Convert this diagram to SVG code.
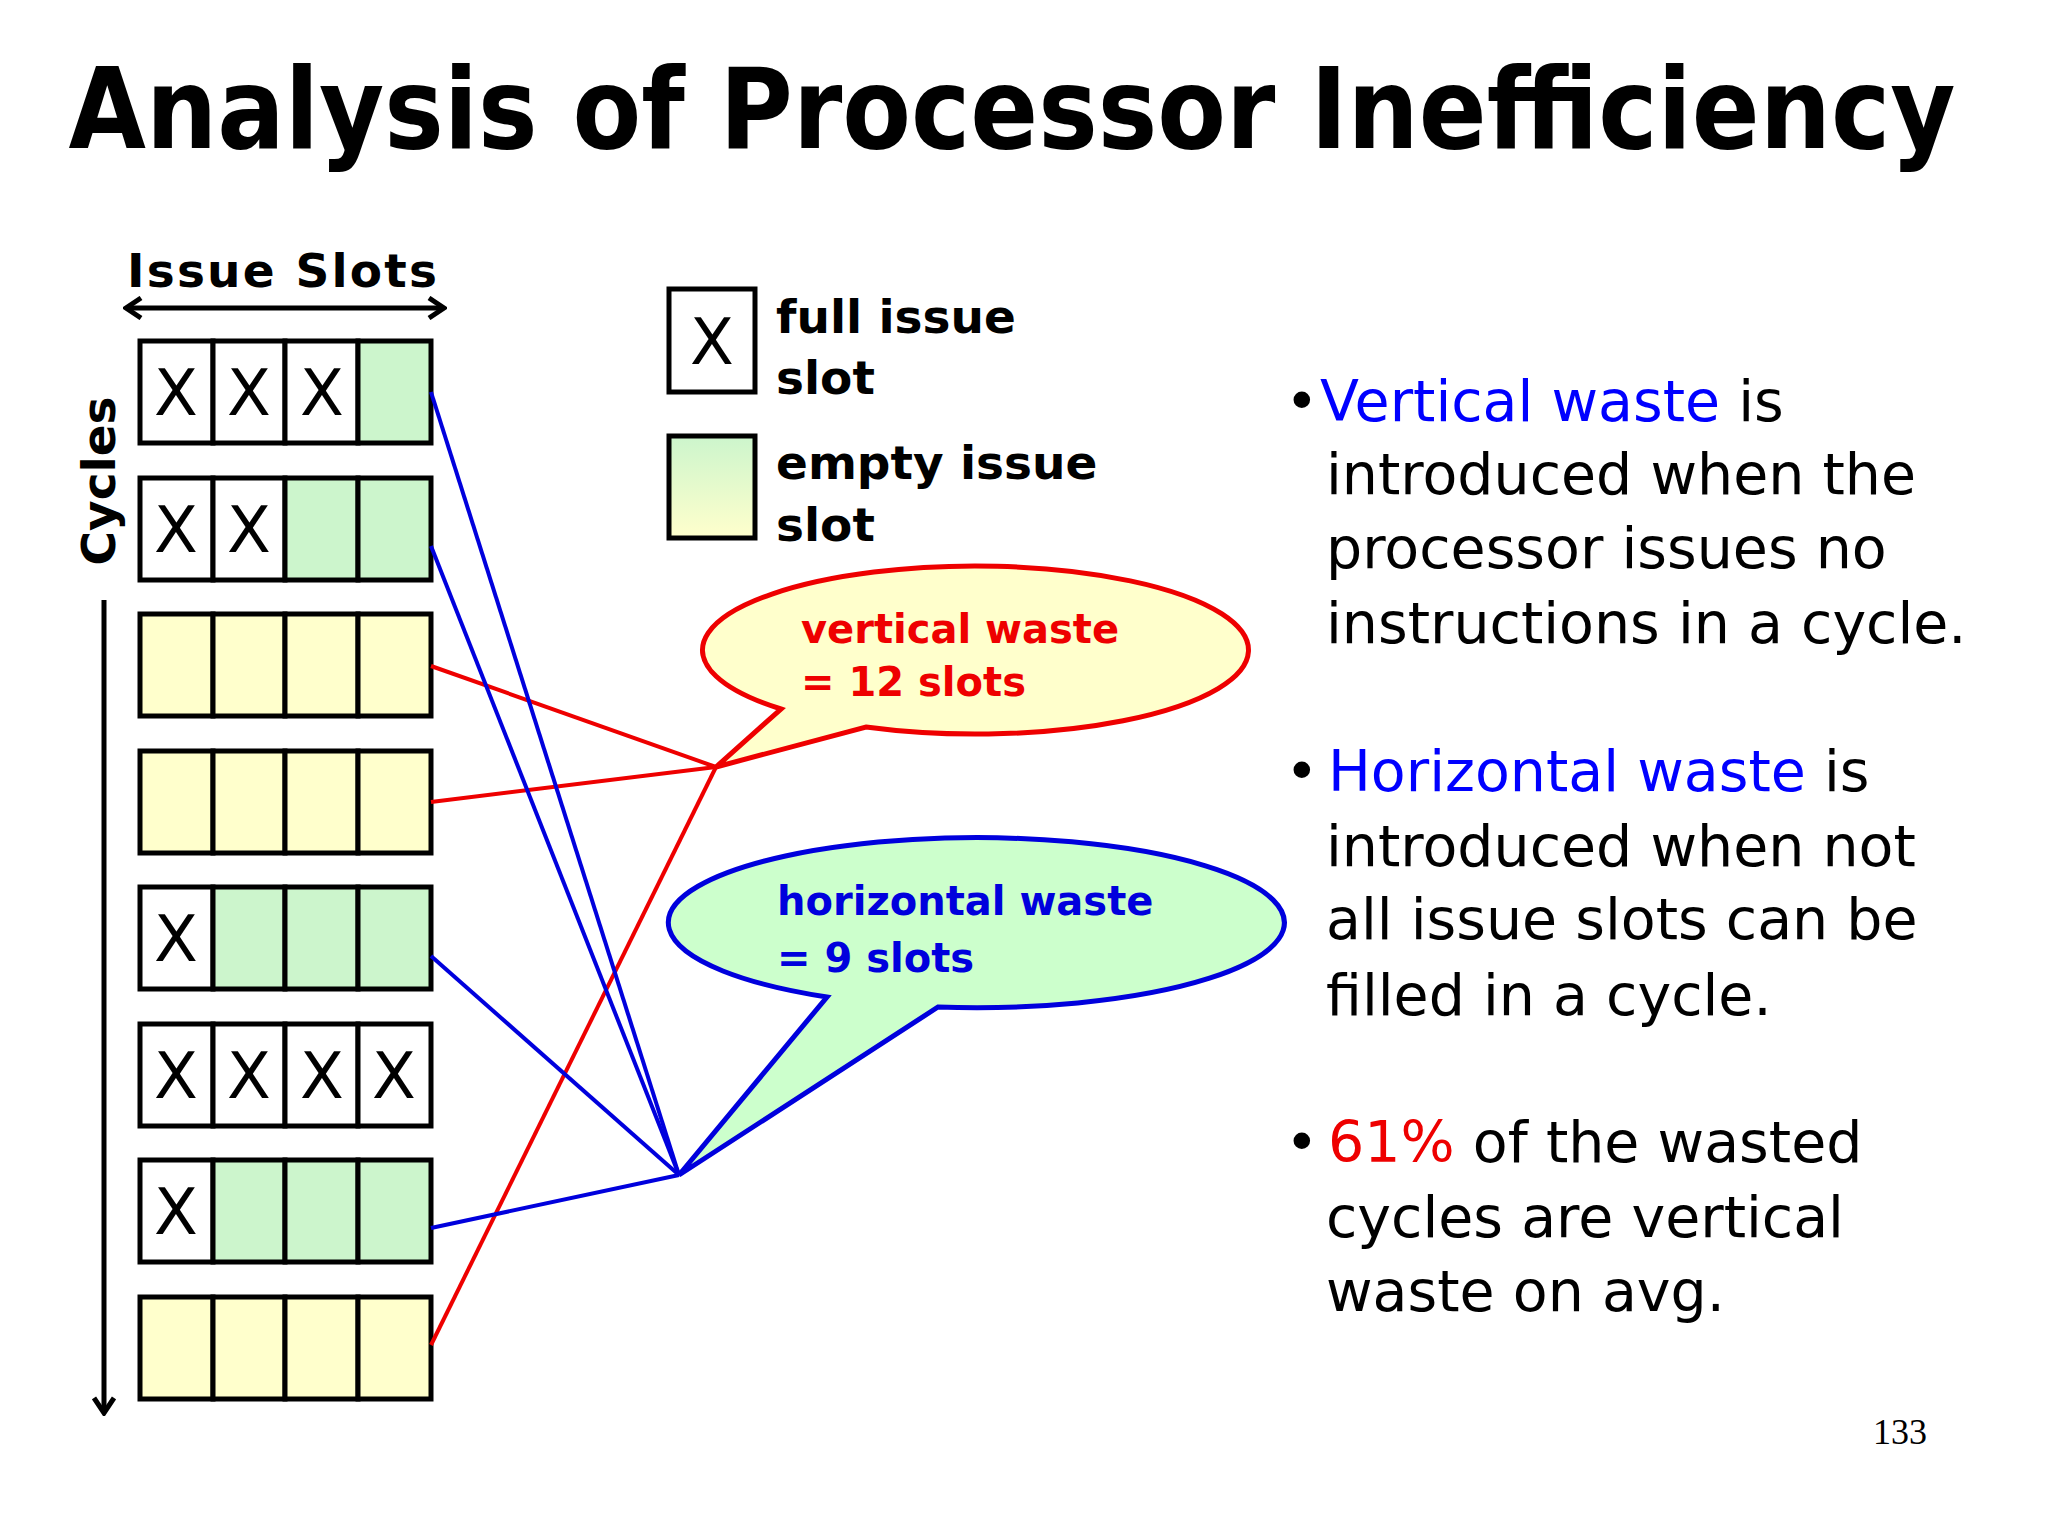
<svg xmlns="http://www.w3.org/2000/svg" width="2048" height="1536" viewBox="0 0 2048 1536">
<style>
.c{stroke:#000;stroke-width:5}
.w{fill:#fff}.g{fill:#ccf5cc}.y{fill:#ffffcc}
.x{font-family:"DejaVu Sans",sans-serif;font-size:64px;text-anchor:middle;fill:#000}
.t{font-family:"DejaVu Sans",sans-serif;font-weight:bold;font-size:47px;fill:#000}
.b{font-family:"DejaVu Sans",sans-serif;font-size:57px;fill:#000}
.cl{font-family:"DejaVu Sans",sans-serif;font-weight:bold;font-size:40px}
</style>
<defs>
<linearGradient id="lg" x1="0" y1="0" x2="0" y2="1"><stop offset="0" stop-color="#ccf5cc"/><stop offset="1" stop-color="#ffffcc"/></linearGradient>
<marker id="ah" markerWidth="20" markerHeight="24" refX="17" refY="12" orient="auto-start-reverse" markerUnits="userSpaceOnUse"><path d="M2,2 L17,12 L2,22" fill="none" stroke="#000" stroke-width="5"/></marker>
</defs>
<rect width="2048" height="1536" fill="#fff"/>
<text x="1012" y="148" text-anchor="middle" font-family="DejaVu Sans,sans-serif" font-weight="bold" font-size="112" textLength="1887" lengthAdjust="spacingAndGlyphs">Analysis of Processor Inefficiency</text>
<text class="t" x="127" y="287" textLength="310">Issue Slots</text>
<line x1="126" y1="308" x2="444" y2="308" stroke="#000" stroke-width="5" marker-start="url(#ah)" marker-end="url(#ah)"/>
<text class="t" transform="translate(115,481) rotate(-90)" text-anchor="middle">Cycles</text>
<line x1="104" y1="600" x2="104" y2="1413" stroke="#000" stroke-width="5" marker-end="url(#ah)"/>
<g id="grid">
<g id="r1"><rect class="c w" x="140" y="341" width="73" height="102"/><rect class="c w" x="213" y="341" width="72" height="102"/><rect class="c w" x="285" y="341" width="73" height="102"/><rect class="c g" x="358" y="341" width="73" height="102"/><text class="x" x="176" y="415">X</text><text class="x" x="249" y="415">X</text><text class="x" x="322" y="415">X</text></g>
<g id="r2"><rect class="c w" x="140" y="478" width="73" height="102"/><rect class="c w" x="213" y="478" width="72" height="102"/><rect class="c g" x="285" y="478" width="73" height="102"/><rect class="c g" x="358" y="478" width="73" height="102"/><text class="x" x="176" y="552">X</text><text class="x" x="249" y="552">X</text></g>
<g id="r3"><rect class="c y" x="140" y="614" width="73" height="102"/><rect class="c y" x="213" y="614" width="72" height="102"/><rect class="c y" x="285" y="614" width="73" height="102"/><rect class="c y" x="358" y="614" width="73" height="102"/></g>
<g id="r4"><rect class="c y" x="140" y="751" width="73" height="102"/><rect class="c y" x="213" y="751" width="72" height="102"/><rect class="c y" x="285" y="751" width="73" height="102"/><rect class="c y" x="358" y="751" width="73" height="102"/></g>
<g id="r5"><rect class="c w" x="140" y="887" width="73" height="102"/><rect class="c g" x="213" y="887" width="72" height="102"/><rect class="c g" x="285" y="887" width="73" height="102"/><rect class="c g" x="358" y="887" width="73" height="102"/><text class="x" x="176" y="961">X</text></g>
<g id="r6"><rect class="c w" x="140" y="1024" width="73" height="102"/><rect class="c w" x="213" y="1024" width="72" height="102"/><rect class="c w" x="285" y="1024" width="73" height="102"/><rect class="c w" x="358" y="1024" width="73" height="102"/><text class="x" x="176" y="1098">X</text><text class="x" x="249" y="1098">X</text><text class="x" x="322" y="1098">X</text><text class="x" x="394" y="1098">X</text></g>
<g id="r7"><rect class="c w" x="140" y="1160" width="73" height="102"/><rect class="c g" x="213" y="1160" width="72" height="102"/><rect class="c g" x="285" y="1160" width="73" height="102"/><rect class="c g" x="358" y="1160" width="73" height="102"/><text class="x" x="176" y="1234">X</text></g>
<g id="r8"><rect class="c y" x="140" y="1297" width="73" height="102"/><rect class="c y" x="213" y="1297" width="72" height="102"/><rect class="c y" x="285" y="1297" width="73" height="102"/><rect class="c y" x="358" y="1297" width="73" height="102"/></g>
</g>
<g id="legend">
<rect class="c w" x="669" y="289" width="86" height="103"/><text class="x" x="712" y="364">X</text>
<text class="t" x="776" y="333">full issue</text><text class="t" x="776" y="394">slot</text>
<rect class="c" fill="url(#lg)" x="669" y="436" width="86" height="102"/>
<text class="t" x="776" y="479">empty issue</text><text class="t" x="776" y="541">slot</text>
</g>
<g id="connectors" fill="none" stroke-width="4">
<g stroke="#e00">
<line x1="716" y1="767" x2="431" y2="666"/><line x1="716" y1="767" x2="431" y2="802"/><line x1="716" y1="767" x2="431" y2="1345"/>
</g>
<g stroke="#00d">
<line x1="679" y1="1175" x2="431" y2="392"/><line x1="679" y1="1175" x2="431" y2="546"/><line x1="679" y1="1175" x2="431" y2="956"/><line x1="679" y1="1175" x2="431" y2="1228"/>
</g>
</g>
<g id="vcallout">
<path d="M781,709 A273,84 0 1 1 866,727 L716,767 Z" fill="#ffffcc" stroke="#e00" stroke-width="5"/>
<text class="cl" fill="#e00" x="801" y="643">vertical waste</text><text class="cl" fill="#e00" x="801" y="696">= 12 slots</text>
</g>
<g id="hcallout">
<path d="M827,997 A308,85 0 1 1 938,1007 L679,1175 Z" fill="#ccffcc" stroke="#00d" stroke-width="5"/>
<text class="cl" fill="#00d" x="777" y="915">horizontal waste</text><text class="cl" fill="#00d" x="777" y="972">= 9 slots</text>
</g>
<g id="bullets">
<text class="b" x="1285" y="421" font-size="36">•</text>
<text class="b" x="1320" y="421"><tspan fill="#00f">Vertical waste</tspan> is</text>
<text class="b" x="1326" y="494">introduced when the</text>
<text class="b" x="1326" y="568">processor issues no</text>
<text class="b" x="1326" y="643">instructions in a cycle.</text>
<text class="b" x="1285" y="791">•</text>
<text class="b" x="1328" y="791"><tspan fill="#00f">Horizontal waste</tspan> is</text>
<text class="b" x="1326" y="866">introduced when not</text>
<text class="b" x="1326" y="939">all issue slots can be</text>
<text class="b" x="1326" y="1015">filled in a cycle.</text>
<text class="b" x="1285" y="1162">•</text>
<text class="b" x="1328" y="1162"><tspan fill="#e00">61%</tspan> of the wasted</text>
<text class="b" x="1326" y="1237">cycles are vertical</text>
<text class="b" x="1326" y="1311">waste on avg.</text>
</g>
<text x="1900" y="1444" text-anchor="middle" font-family="Liberation Serif,serif" font-size="36">133</text>
</svg>
